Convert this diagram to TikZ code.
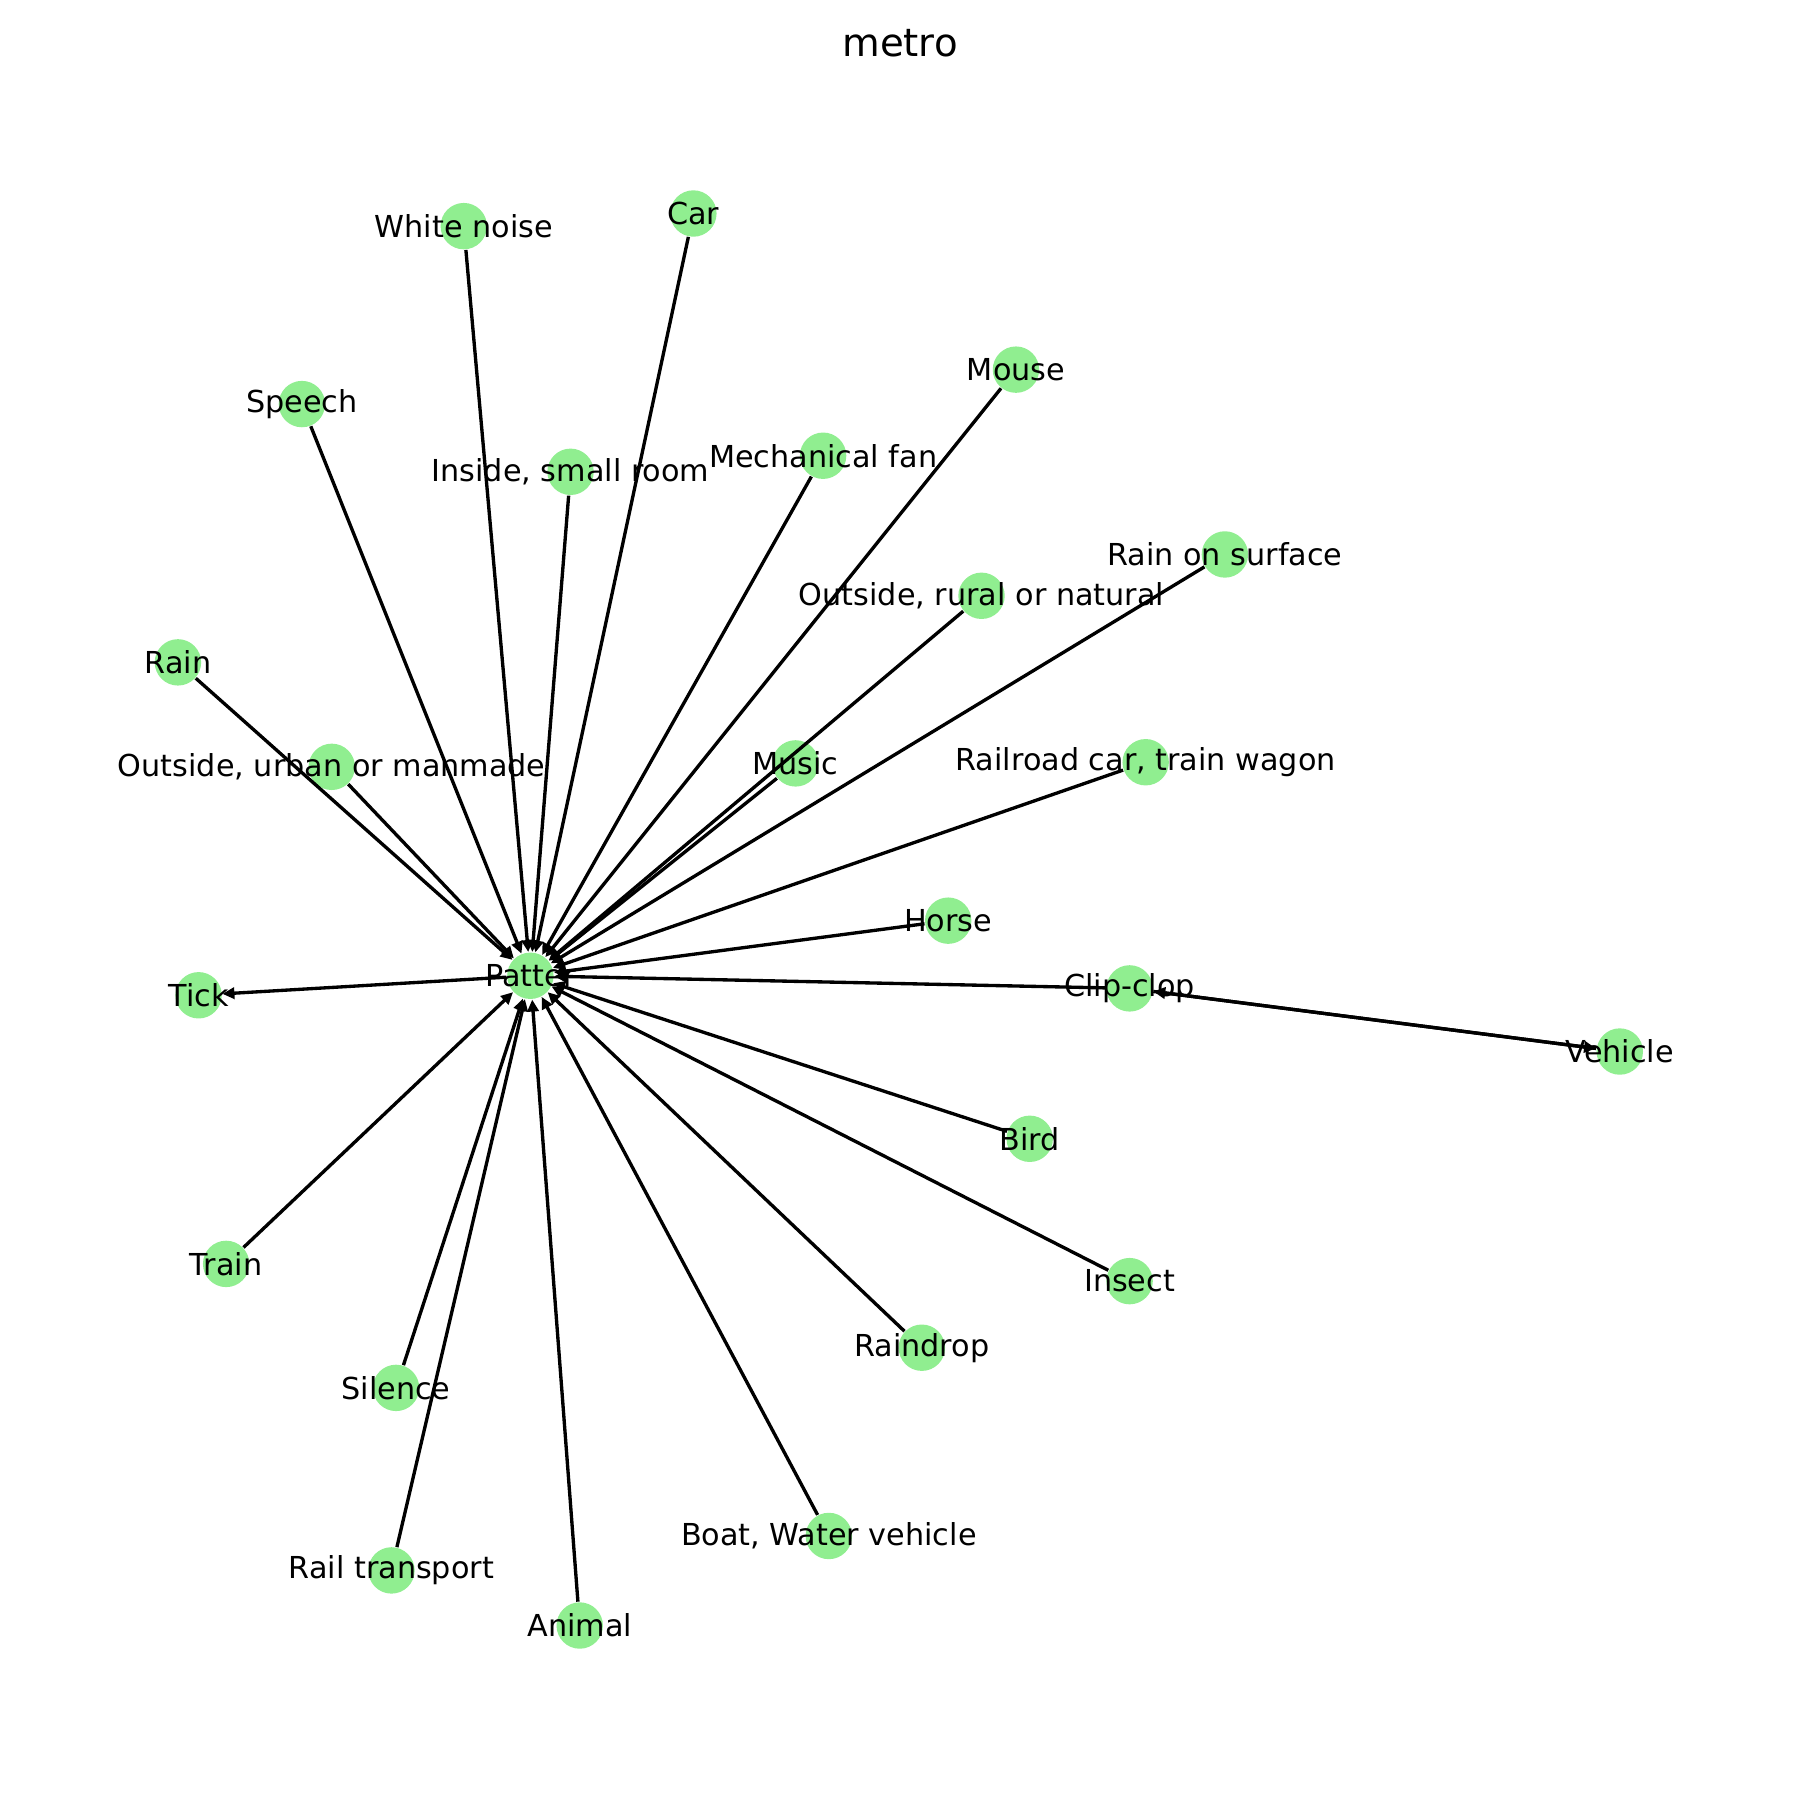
\documentclass[tikz,border=0pt]{standalone}
\usepackage{fontspec}
\setmainfont{DejaVu Sans}
\usetikzlibrary{arrows.meta}
\definecolor{nodegreen}{HTML}{90EE90}
\begin{document}
\begin{tikzpicture}[x=0.011480cm,y=-0.011480cm,
  nd/.style={circle,fill=nodegreen,draw=none,minimum size=13.2pt,inner sep=0pt},
  lbl/.style={font=\fontsize{8.6}{10}\selectfont,inner sep=0pt,text=black},
  edge/.style={line width=0.95pt,-{Triangle[length=3.4pt,width=3.2pt]}},
  ttl/.style={font=\fontsize{11}{13}\selectfont,inner sep=0pt}]
\useasboundingbox (0,0) rectangle (1568,1568);
\node[ttl] (title) at (784,38) {metro};
% nodes
\node[nd] (patter) at (462,850) {};
\node[nd] (whitenoise) at (404,197) {};
\node[nd] (car) at (604,186) {};
\node[nd] (speech) at (263,352) {};
\node[nd] (inside) at (497,411) {};
\node[nd] (fan) at (717,397) {};
\node[nd] (mouse) at (885,322) {};
\node[nd] (rainsurf) at (1067,483) {};
\node[nd] (rural) at (855,519) {};
\node[nd] (rain) at (155,577) {};
\node[nd] (urban) at (289,668) {};
\node[nd] (music) at (693,665) {};
\node[nd] (railcar) at (998,664) {};
\node[nd] (horse) at (826,802) {};
\node[nd] (tick) at (173,867) {};
\node[nd] (clip) at (984,861) {};
\node[nd] (vehicle) at (1411,916) {};
\node[nd] (bird) at (897,992) {};
\node[nd] (insect) at (984,1116) {};
\node[nd] (train) at (197,1101) {};
\node[nd] (raindrop) at (803,1174) {};
\node[nd] (silence) at (345,1209) {};
\node[nd] (boat) at (722,1338) {};
\node[nd] (railtr) at (341,1368) {};
\node[nd] (animal) at (505,1416) {};
% edges
\foreach \s in {whitenoise,car,speech,inside,fan,mouse,rainsurf,rural,rain,urban,music,railcar,horse,clip,bird,insect,train,raindrop,silence,boat,railtr,animal}
  \draw[edge] (\s) -- (patter);
\draw[edge] (patter) -- (tick);
\draw[edge] (clip) -- (vehicle);
\draw[edge] (vehicle) -- (clip);
% labels
\node[lbl] at (patter) {Patter};
\node[lbl] at (whitenoise) {White noise};
\node[lbl] at (car) {Car};
\node[lbl] at (speech) {Speech};
\node[lbl] at (inside) {Inside, small room};
\node[lbl] at (fan) {Mechanical fan};
\node[lbl] at (mouse) {Mouse};
\node[lbl] at (rainsurf) {Rain on surface};
\node[lbl] at (rural) {Outside, rural or natural};
\node[lbl] at (rain) {Rain};
\node[lbl] at (urban) {Outside, urban or manmade};
\node[lbl] at (music) {Music};
\node[lbl] at (railcar) {Railroad car, train wagon};
\node[lbl] at (horse) {Horse};
\node[lbl] at (tick) {Tick};
\node[lbl] at (clip) {Clip-clop};
\node[lbl] at (vehicle) {Vehicle};
\node[lbl] at (bird) {Bird};
\node[lbl] at (insect) {Insect};
\node[lbl] at (train) {Train};
\node[lbl] at (raindrop) {Raindrop};
\node[lbl] at (silence) {Silence};
\node[lbl] at (boat) {Boat, Water vehicle};
\node[lbl] at (railtr) {Rail transport};
\node[lbl] at (animal) {Animal};
\end{tikzpicture}
\end{document}
